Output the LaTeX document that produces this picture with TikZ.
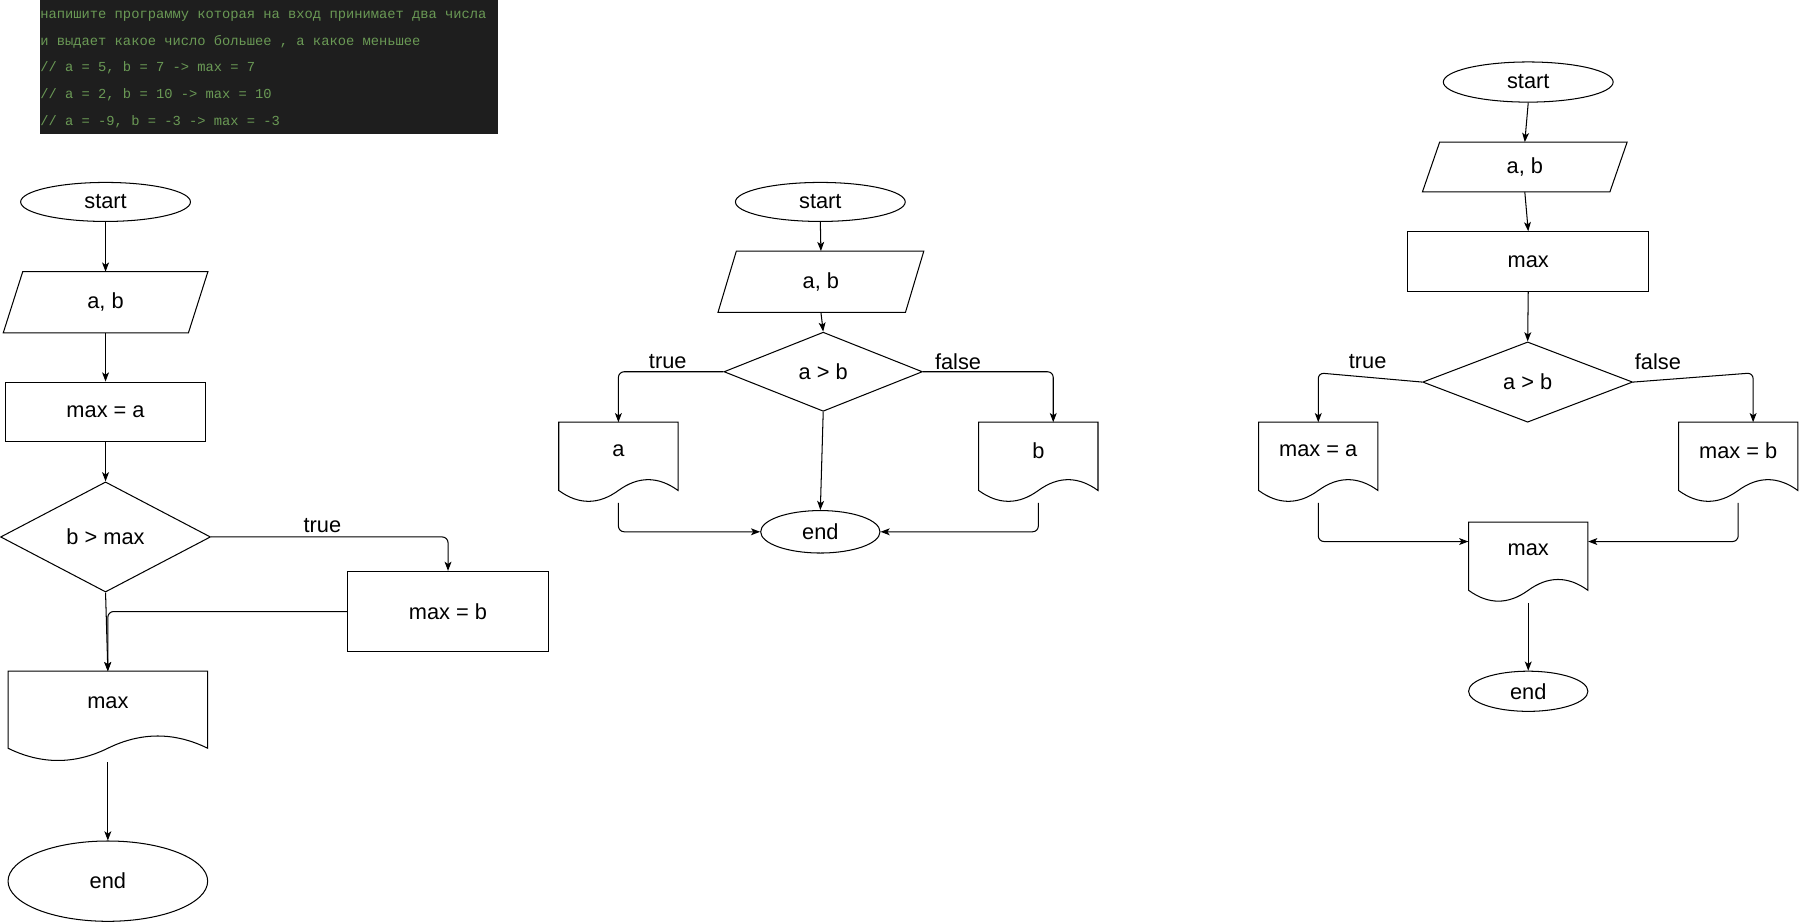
\documentclass[tikz,border=0pt]{standalone}
\usepackage{fontspec}
\setmainfont{Liberation Sans}
\newfontfamily\codefont{Liberation Mono}
\usetikzlibrary{shapes.geometric,arrows.meta,calc}
\definecolor{codebg}{HTML}{1E1E1E}
\definecolor{codegreen}{HTML}{6A9955}
\tikzset{
  every node/.style={font=\fontsize{19}{22}\selectfont},
  shp/.style={draw, line width=0.9pt, inner sep=0pt},
  term/.style={shp, ellipse},
  proc/.style={shp, rectangle},
  dec/.style={shp, diamond},
  box/.style={inner sep=0pt, draw=none},
  outline/.style={line width=0.9pt},
  conn/.style={line width=0.9pt, -{Stealth[length=8pt,width=6pt,inset=2pt]}, rounded corners=5pt},
  lbl/.style={inner sep=0pt},
  code/.style={anchor=base west, inner sep=0pt, text=codegreen, font=\codefont\fontsize{12}{14}\selectfont},
}
% document shape: name, cx, top, w, h, text
\newcommand\docnode[6]{%
  \node[box, minimum width=#4pt, minimum height=#5pt, anchor=north] (#1) at (#2,#3) {};
  \begin{scope}[shift={(#2-#4/2,#3)}]
    \draw[outline] (0,0) -- (#4,0) -- (#4,0.85*#5)
      .. controls (0.8333*#4,0.67*#5) and (0.6667*#4,0.67*#5) .. (0.5*#4,0.85*#5)
      .. controls (0.3333*#4,1.03*#5) and (0.1667*#4,1.03*#5) .. (0,0.85*#5) -- cycle;
  \end{scope}
  \node (#1t) at (#2,#3+0.35*#5) {#6};
}
% parallelogram: name, cx, cy, w, h, skew, text
\newcommand\paranode[7]{%
  \node[box, minimum width=#4pt, minimum height=#5pt] (#1) at (#2,#3) {#7};
  \draw[outline] ($(#1.north west)+(#6,0)$) -- (#1.north east) -- ($(#1.south east)-(#6,0)$) -- (#1.south west) -- cycle;
}
\begin{document}
\begin{tikzpicture}[x=1pt,y=-1pt]
\useasboundingbox (0,0) rectangle (1568,804);

% code block
\fill[codebg] (35,0) rectangle (434,117);
\node[code] (c1) at (35,16) {напишите программу которая на вход принимает два числа};
\node[code] (c2) at (35,39.3) {и выдает какое число большее , а какое меньшее};
\node[code] (c3) at (35,62.6) {// a = 5, b = 7 -> max = 7};
\node[code] (c4) at (35,86) {// a = 2, b = 10 -> max = 10};
\node[code] (c5) at (35,109.3) {// a = -9, b = -3 -> max = -3};

% ---------- left chart ----------
\node[term, minimum width=148pt, minimum height=34pt] (s1) at (92,176) {start};
\paranode{p1}{92}{263.5}{178}{53}{17}{a, b}
\node[proc, minimum width=174pt, minimum height=52pt] (r1) at (92,359) {max = a};
\node[dec, minimum width=183pt, minimum height=96pt] (d1) at (92,468) {b > max};
\node[proc, minimum width=175pt, minimum height=70pt] (rb1) at (390.5,533) {max = b};
\docnode{m1}{94}{585}{174}{79}{max}
\node[term, minimum width=174pt, minimum height=70pt] (e1) at (94,768) {end};
\node[lbl] (l1) at (281,458) {true};

\draw[conn] (s1.south) -- (p1.north);
\draw[conn] (p1.south) -- (r1.north);
\draw[conn] (r1.south) -- (d1.north);
\draw[conn] (d1.east) -| (rb1.north);
\draw[conn] (d1.south) -- (m1.north);
\draw[conn] (rb1.west) -| (m1.north);
\draw[conn] (m1.south) -- (e1.north);

% ---------- middle chart ----------
\node[term, minimum width=148pt, minimum height=34pt] (s2) at (715,176) {start};
\paranode{p2}{715.5}{245.5}{179}{53}{16}{a, b}
\node[dec, minimum width=173pt, minimum height=69pt] (d2) at (717.5,324) {a > b};
\docnode{a2}{539}{368}{104}{70}{a}
\docnode{b2}{905}{368}{104}{70}{b}
\node[term, minimum width=104pt, minimum height=37pt] (e2) at (715,463.5) {end};
\node[lbl] (l2) at (582,315) {true};
\node[lbl] (l3) at (835,315) {false};

\draw[conn] (s2.south) -- (p2.north);
\draw[conn] (p2.south) -- (d2.north);
\draw[conn] (d2.west) -| (a2.north);
\draw[conn] (d2.east) -| ($(b2.north)+(13,0)$);
\draw[conn] (d2.south) -- (e2.north);
\draw[conn] (a2.south) |- (e2.west);
\draw[conn] (b2.south) |- (e2.east);

% ---------- right chart ----------
\node[term, minimum width=148pt, minimum height=35pt] (s3) at (1332,71.5) {start};
\paranode{p3}{1329}{145.5}{178}{43}{15}{a, b}
\node[proc, minimum width=210pt, minimum height=52pt] (r3) at (1332,228) {max};
\node[dec, minimum width=183pt, minimum height=70pt] (d3) at (1331.5,333) {a > b};
\docnode{ma3}{1149}{368}{104}{70}{max = a}
\docnode{mb3}{1515}{368}{104}{70}{max = b}
\docnode{m3}{1332}{455}{104}{70}{max}
\node[term, minimum width=104pt, minimum height=35pt] (e3) at (1332,602.5) {end};
\node[lbl] (l4) at (1192,315) {true};
\node[lbl] (l5) at (1445,315) {false};
\coordinate (t3) at (1149,325);
\coordinate (f3) at (1528,325);

\draw[conn] (s3.south) -- (p3.north);
\draw[conn] (p3.south) -- (r3.north);
\draw[conn] (r3.south) -- (d3.north);
\draw[conn] (d3.west) -- (t3) -- (ma3.north);
\draw[conn] (d3.east) -- (f3) -- (f3 |- mb3.north);
\draw[conn] (ma3.south) |- ($(m3.north west)+(0,17)$);
\draw[conn] (mb3.south) |- ($(m3.north east)+(0,17)$);
\draw[conn] (m3.south) -- (e3.north);
\end{tikzpicture}
\end{document}
